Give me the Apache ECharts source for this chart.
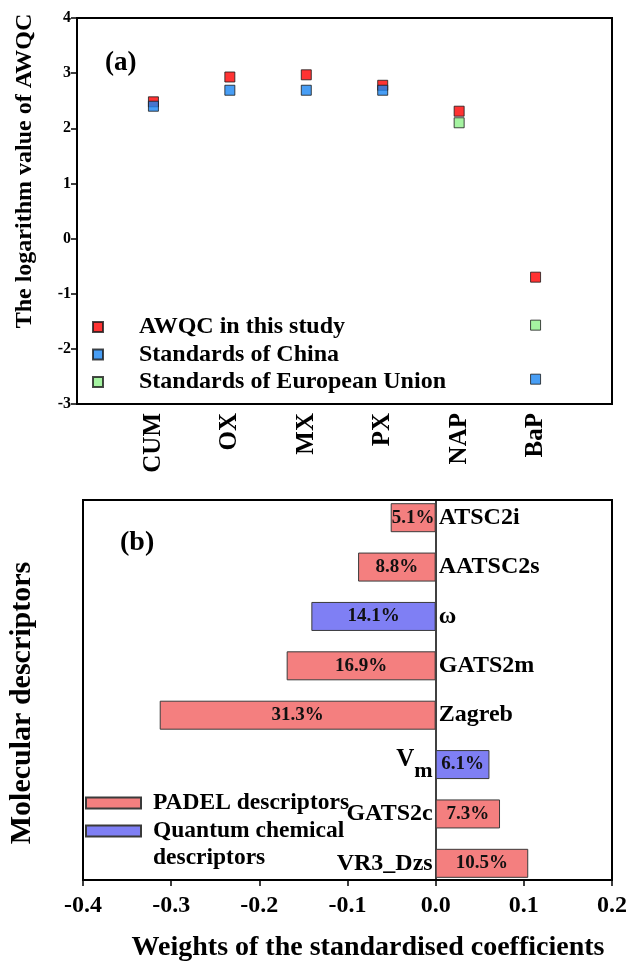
<!DOCTYPE html>
<html>
<head>
<meta charset="utf-8">
<script src="https://cdn.jsdelivr.net/npm/echarts@6/dist/echarts.min.js"></script>
<style>
  html, body { margin: 0; padding: 0; background: #fff; }
  #chart { width: 630px; height: 969px; }
</style>
</head>
<body>
<div id="chart"></div>
<script>
// (a) logarithm of AWQC values for six aromatic compounds
const compounds = ['CUM', 'OX', 'MX', 'PX', 'NAP', 'BaP'];
const awqcThisStudy = [2.48, 2.93, 2.97, 2.78, 2.31, -0.70];
const standardsChina = [2.40, 2.69, 2.69, 2.69, null, -2.55];
const standardsEU = [null, null, null, null, 2.10, -1.57];

// (b) weights of the standardised coefficients per molecular descriptor
const descriptors = ['ATSC2i', 'AATSC2s', 'ω', 'GATS2m', 'Zagreb', 'Vm', 'GATS2c', 'VR3_Dzs'];
const weights = [-0.051, -0.088, -0.141, -0.169, -0.313, 0.061, 0.073, 0.105];
const descriptorGroup = ['PADEL', 'PADEL', 'Quantum', 'PADEL', 'PADEL', 'Quantum', 'PADEL', 'PADEL'];

const FONT = '"Liberation Serif", "Times New Roman", serif';
const black = '#000';

// compounds sit on inner slots of the category axis, one empty slot each side
const slotNames = [''].concat(compounds, ['']);
const pad = arr => [null].concat(arr, [null]);

const pickGroup = g => weights.map((w, i) => descriptorGroup[i] === g ? w : null);

const chart = echarts.init(document.getElementById('chart'), null, { renderer: 'canvas' });

const scatterStyle = color => ({
  color: color,
  borderColor: '#1a1a1a',
  borderWidth: 1
});

const pctLabel = {
  show: true, position: 'inside', color: '#111',
  fontFamily: FONT, fontWeight: 'bold', fontSize: 19,
  formatter: p => (Math.abs(p.value) * 100).toFixed(1) + '%'
};

const option = {
  backgroundColor: '#fff',
  animation: false,
  textStyle: { fontFamily: FONT },
  grid: [
    { left: 77, right: 18, top: 18, bottom: 565, show: true, borderColor: black, borderWidth: 2 },
    { left: 83, right: 18, top: 500, bottom: 89, show: true, borderColor: black, borderWidth: 2 },
    { left: 83, right: 18, top: 493, bottom: 81 }
  ],
  xAxis: [
    {
      gridIndex: 0, type: 'category', data: slotNames, boundaryGap: false,
      axisLine: { onZero: false, lineStyle: { color: black, width: 2 } },
      axisTick: { show: false },
      axisLabel: {
        interval: 0, rotate: 90, margin: 9, color: black,
        fontFamily: FONT, fontWeight: 'bold', fontSize: 25
      },
      splitLine: { show: false }
    },
    {
      gridIndex: 1, type: 'value', min: -0.4, max: 0.2, interval: 0.1,
      axisLine: { onZero: false, lineStyle: { color: black, width: 2 } },
      axisTick: { show: true, length: 6, lineStyle: { color: black, width: 1.5 } },
      axisLabel: {
        margin: 14, color: black, fontFamily: FONT, fontWeight: 'bold', fontSize: 24,
        formatter: v => v.toFixed(1)
      },
      splitLine: { show: false }
    },
    { gridIndex: 2, type: 'value', min: -0.4, max: 0.2, show: false, splitLine: { show: false } }
  ],
  yAxis: [
    {
      gridIndex: 0, type: 'value', min: -3, max: 4, interval: 1,
      axisLine: { show: true, lineStyle: { color: black, width: 2 } },
      axisTick: { show: true, length: 6, lineStyle: { color: black, width: 1.5 } },
      axisLabel: { margin: 6, color: black, fontFamily: FONT, fontWeight: 'bold', fontSize: 16 },
      splitLine: { show: false }
    },
    {
      gridIndex: 1, type: 'value', min: 0, max: 1,
      axisLine: { show: true, onZero: true, lineStyle: { color: black, width: 1.5 } },
      axisTick: { show: false },
      axisLabel: { show: false },
      splitLine: { show: false }
    },
    {
      gridIndex: 2, type: 'category', data: descriptors, inverse: true, show: false
    }
  ],
  legend: [
    {
      data: ['AWQC in this study', 'Standards of China', 'Standards of European Union'],
      orient: 'vertical', left: 92, top: 315, padding: 0,
      itemWidth: 10, itemHeight: 10, itemGap: 3.5,
      textStyle: {
        color: black, fontFamily: FONT, fontWeight: 'bold', fontSize: 24,
        lineHeight: 24, padding: [0, 0, 0, 31]
      }
    },
    {
      data: [{ name: 'PADEL descriptors', icon: 'rect' }],
      orient: 'vertical', left: 85, top: 789.5, padding: 0,
      itemWidth: 55, itemHeight: 11,
      textStyle: {
        color: black, fontFamily: FONT, fontWeight: 'bold', fontSize: 23.5,
        lineHeight: 27, padding: [0, 0, 0, 7]
      }
    },
    {
      // leading blank line keeps the swatch level with the first text line
      data: [{ name: 'Quantum chemical descriptors', icon: 'rect' }],
      orient: 'vertical', left: 85, top: 790.5, padding: 0,
      itemWidth: 55, itemHeight: 11,
      formatter: () => '\nQuantum chemical\ndescriptors',
      textStyle: {
        color: black, fontFamily: FONT, fontWeight: 'bold', fontSize: 23.5,
        lineHeight: 27, padding: [0, 0, 0, 7]
      }
    }
  ],
  graphic: [
    {
      type: 'text', x: 105, y: 63,
      style: { text: '(a)', font: 'bold 27px ' + FONT, fill: black,
               textAlign: 'left', textVerticalAlign: 'middle' }
    },
    {
      type: 'text', x: 120, y: 543,
      style: { text: '(b)', font: 'bold 28px ' + FONT, fill: black,
               textAlign: 'left', textVerticalAlign: 'middle' }
    },
    {
      type: 'text', x: 25, y: 171, rotation: Math.PI / 2,
      style: { text: 'The logarithm value of AWQC', font: 'bold 24px ' + FONT, fill: black,
               textAlign: 'center', textVerticalAlign: 'middle' }
    },
    {
      type: 'text', x: 22, y: 703, rotation: Math.PI / 2,
      style: { text: 'Molecular descriptors', font: 'bold 30px ' + FONT, fill: black,
               textAlign: 'center', textVerticalAlign: 'middle' }
    },
    {
      type: 'text', x: 368, y: 948,
      style: { text: 'Weights of the standardised coefficients', font: 'bold 28px ' + FONT, fill: black,
               textAlign: 'center', textVerticalAlign: 'middle' }
    }
  ],
  series: [
    {
      name: 'AWQC in this study', type: 'scatter', xAxisIndex: 0, yAxisIndex: 0,
      symbol: 'rect', symbolSize: 10, data: pad(awqcThisStudy),
      itemStyle: scatterStyle('#ff0000')
    },
    {
      name: 'Standards of China', type: 'scatter', xAxisIndex: 0, yAxisIndex: 0,
      symbol: 'rect', symbolSize: 10, data: pad(standardsChina),
      itemStyle: scatterStyle('#1a86f2')
    },
    {
      name: 'Standards of European Union', type: 'scatter', xAxisIndex: 0, yAxisIndex: 0,
      symbol: 'rect', symbolSize: 10, data: pad(standardsEU),
      itemStyle: scatterStyle('#8ef08a')
    },
    {
      name: 'PADEL descriptors', type: 'bar', xAxisIndex: 2, yAxisIndex: 2,
      barWidth: 29, barGap: '-100%', data: pickGroup('PADEL'),
      itemStyle: { color: '#f47f7f', borderColor: '#3a3a3a', borderWidth: 1 },
      label: pctLabel
    },
    {
      name: 'Quantum chemical descriptors', type: 'bar', xAxisIndex: 2, yAxisIndex: 2,
      barWidth: 29, barGap: '-100%', data: pickGroup('Quantum'),
      itemStyle: { color: '#7f7ff4', borderColor: '#3a3a3a', borderWidth: 1 },
      label: pctLabel
    },
    {
      // descriptor names placed beside the zero line, opposite the bar
      name: 'descriptor names', type: 'bar', xAxisIndex: 2, yAxisIndex: 2,
      barWidth: 29, barGap: '-100%', silent: true,
      itemStyle: { color: 'rgba(0,0,0,0)' },
      data: weights.map(w => ({ value: w, label: { position: w < 0 ? 'right' : 'left' } })),
      label: {
        show: true, distance: 3, color: black,
        fontFamily: FONT, fontWeight: 'bold', fontSize: 24,
        formatter: p => p.name === 'Vm' ? '{v|V}{s|m}' : p.name,
        rich: {
          v: { fontFamily: FONT, fontWeight: 'bold', fontSize: 25, color: black,
               lineHeight: 36, verticalAlign: 'top' },
          s: { fontFamily: FONT, fontWeight: 'bold', fontSize: 22, color: black,
               lineHeight: 36, verticalAlign: 'bottom' }
        }
      }
    }
  ]
};

chart.setOption(option);
</script>
</body>
</html>
